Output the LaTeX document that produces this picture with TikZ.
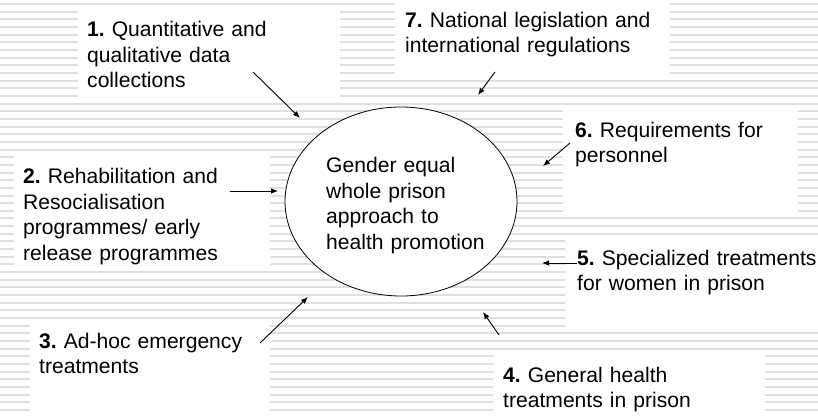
\documentclass[tikz,border=0pt]{standalone}
\usepackage{fontspec}
\setmainfont{Liberation Sans}
\usetikzlibrary{arrows.meta,shapes.geometric}
\frenchspacing
\begin{document}
\begin{tikzpicture}[x=1pt,y=-1pt,
  lbl/.style={anchor=base west, inner sep=0pt, text width=#1, align=left,
    font=\fontsize{21.1}{25.5}\selectfont\frenchspacing},
  arr/.style={-{Latex[length=7pt,width=5.5pt]}, line width=0.9pt},
  stripe/.style={fill=black!12}]
\useasboundingbox (0,0) rectangle (818,415);
\fill[white] (0,0) rectangle (818,415);
\foreach \k in {0,...,53}
  \fill[stripe] (0,{4+7.66*\k-1}) rectangle (818,{4+7.66*\k+1});
% white text frames
\fill[white] (78,10) rectangle (340,103);
\fill[white] (395,0) rectangle (670,75);
\fill[white] (14,155) rectangle (270,267);
\fill[white] (563,108) rectangle (798,215);
\fill[white] (565,240) rectangle (818,330);
\fill[white] (493,355) rectangle (765,415);
\fill[white] (30,323) rectangle (270,415);
% hub
\node[draw, ellipse, fill=white, line width=0.8pt, minimum width=232pt,
  minimum height=189pt, inner sep=0pt] (hub) at (401,201.5) {};
\node[lbl=200pt] (hubtxt) at (326,172.5)
  {Gender equal\\whole prison\\approach to\\health promotion};
% labels
\node[lbl=250pt] (t1) at (87,36.5)
  {\textbf{1.} Quantitative and\\qualitative data\\collections};
\node[lbl=250pt] (t2) at (23,183.5)
  {\textbf{2.} Rehabilitation and\\Resocialisation\\programmes/ early\\release programmes};
\node[lbl=250pt] (t3) at (39,348)
  {\textbf{3.} Ad-hoc emergency\\treatments};
\node[lbl=250pt] (t4) at (503,382)
  {\textbf{4.} General health\\treatments in prison};
\node[lbl=240pt] (t5) at (577,265)
  {\textbf{5.} Specialized treatments\\for women in prison};
\node[lbl=250pt] (t6) at (575,137)
  {\textbf{6.} Requirements for\\personnel};
\node[lbl=270pt] (t7) at (405,27)
  {\textbf{7.} National legislation and\\international regulations};
% arrow ends
\coordinate (a1s) at (253,72);  \coordinate (a1e) at (300,118);
\coordinate (a2s) at (230,191); \coordinate (a2e) at (278,191);
\coordinate (a3s) at (260,343); \coordinate (a3e) at (308,297);
\coordinate (a4s) at (499,335); \coordinate (a4e) at (483,312);
\coordinate (a5s) at (577,263); \coordinate (a5e) at (542,263);
\coordinate (a6s) at (570,143); \coordinate (a6e) at (543,166);
\coordinate (a7s) at (495,72);  \coordinate (a7e) at (478,95);
\foreach \i in {1,...,7} \draw[arr] (a\i s) -- (a\i e);
\end{tikzpicture}
\end{document}
